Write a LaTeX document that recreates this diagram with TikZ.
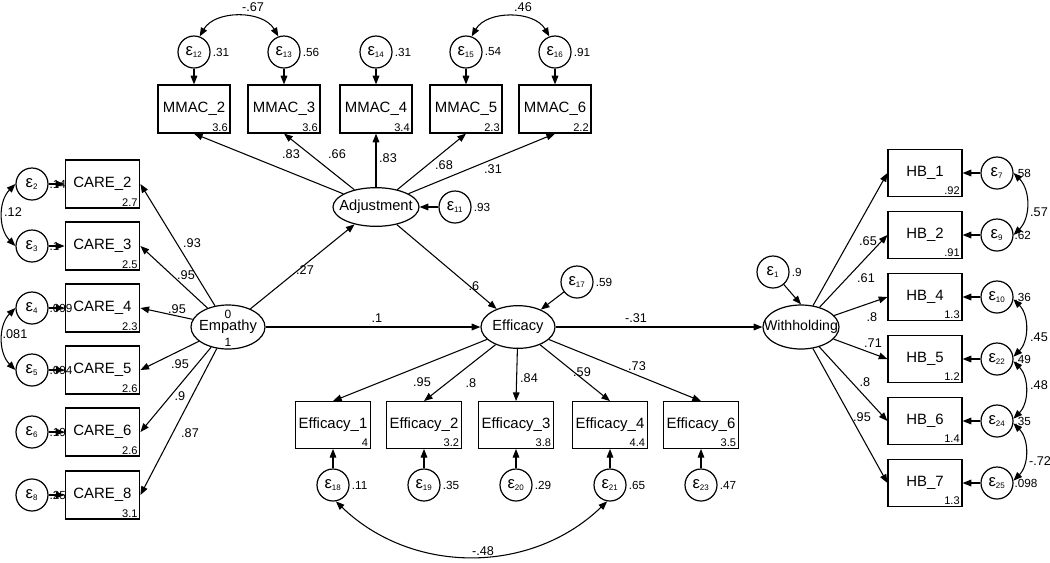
\documentclass[tikz,border=0pt]{standalone}
\usepackage{fontspec}
\setmainfont{Liberation Sans}
\usetikzlibrary{arrows.meta,shapes.geometric}
\newcommand{\errlab}[1]{ε\textsubscript{\fontsize{6}{6.5}\selectfont #1}}
\begin{document}
\begin{tikzpicture}[x=0.75pt,y=-0.75pt,
  box/.style={draw, line width=0.9pt, rectangle, inner sep=0pt, minimum width=56pt, minimum height=36pt, font=\fontsize{11.2}{12}\selectfont},
  lat/.style={draw, line width=0.9pt, ellipse, inner sep=0pt, font=\fontsize{11}{12}\selectfont},
  err/.style={draw, line width=0.9pt, circle, inner sep=0pt, minimum size=24pt, font=\fontsize{12.5}{13}\selectfont},
  pth/.style={line width=0.8pt, -{Triangle[length=6.5pt,width=5pt]}},
  cov/.style={line width=0.8pt, {Triangle[length=6.5pt,width=5pt]}-{Triangle[length=6.5pt,width=5pt]}},
  coef/.style={font=\fontsize{9.5}{10}\selectfont, inner sep=0pt},
  var/.style={font=\fontsize{8.8}{9}\selectfont, inner sep=0pt, anchor=west},
  icpt/.style={font=\fontsize{8.3}{9}\selectfont, inner sep=0pt, anchor=south east}]
\fill[white] (0,0) rectangle (1050,562);
\useasboundingbox (0,0) rectangle (1050,562);

% latent variables
\node[lat, minimum width=55.5pt, minimum height=33pt] (emp) at (228,327) {\makebox[0pt]{Empathy}};
\node[coef, font=\fontsize{9}{9}\selectfont] (emp0) at (228,314) {0};
\node[coef, font=\fontsize{9}{9}\selectfont] (emp1) at (228,342) {1};
\node[lat, minimum width=64.5pt, minimum height=29pt] (adj) at (376,207) {\makebox[0pt]{Adjustment}};
\node[lat, minimum width=55.5pt, minimum height=32pt] (eff) at (518,327) {\makebox[0pt]{Efficacy}};
\node[lat, minimum width=57pt, minimum height=33pt] (with) at (801,327) {\makebox[0pt]{\fontsize{10.6}{12}\selectfont Withholding}};

% latent errors
\node[err] (e11) at (455,207) {\errlab{11}};
\node[var] (v11) at ([xshift=1.5pt]e11.east) {.93};
\node[err] (e17) at (577,282) {\errlab{17}};
\node[var] (v17) at ([xshift=1.5pt]e17.east) {.59};
\node[err] (e1) at (773,272) {\errlab{1}};
\node[var] (v1) at ([xshift=1.5pt]e1.east) {.9};
\draw[pth] (e11) -- (adj);
\draw[pth] (e17) -- (eff);
\draw[pth] (e1) -- (with.north);

% structural paths
\draw[pth] (emp) -- (adj);
\node[coef] (l27) at (305,270) {.27};
\draw[pth] (emp) -- (eff);
\node[coef] (l1) at (377,318) {.1};
\draw[pth] (adj) -- (eff);
\node[coef] (l6) at (474,286) {.6};
\draw[pth] (eff) -- (with);
\node[coef] (l31) at (636,318) {-.31};

% CARE indicators
\foreach \n/\y/\ic/\v in {2/184/2.7/.14, 3/246/2.5/.1, 4/308/2.3/.099, 5/370/2.6/.094, 6/432/2.6/.19, 8/495/3.1/.25}{
  \node[box] (c\n) at (102.5,\y) {CARE\_\n};
  \node[icpt] at ([xshift=-2pt,yshift=1.5pt]c\n.south east) {\ic};
  \node[err] (ec\n) at (32,\y) {\errlab{\n}};
  \node[var] at ([xshift=0.5pt,yshift=-0.5pt]ec\n.east) {\v};
  \draw[pth] (ec\n) -- (c\n);
}
\foreach \n/\l/\lx/\ly in {2/.93/192/243, 3/.95/186/275, 4/.95/177/309, 5/.95/180/364, 6/.9/180/396, 8/.87/190/433}{
  \draw[pth] (emp) -- (c\n.east);
  \node[coef] at (\lx,\ly) {\l};
}
\draw[cov] (ec2.west) to[out=225,in=135] (ec3.west);
\node[coef] (l12) at (13,212) {.12};
\draw[cov] (ec4.west) to[out=225,in=135] (ec5.west);
\node[coef] (l081) at (15,334) {.081};

% MMAC indicators
\foreach \n/\e/\x/\ic/\v in {2/12/194/3.6/.31, 3/13/284/3.6/.56, 4/14/376/3.4/.31, 5/15/466/2.3/.54, 6/16/555/2.2/.91}{
  \node[box, minimum width=54pt] (m\n) at (\x,109) {MMAC\_\n};
  \node[icpt] at ([xshift=-2pt,yshift=1.5pt]m\n.south east) {\ic};
  \node[err] (em\n) at (\x,52) {\errlab{\e}};
  \node[var] at ([xshift=1.5pt]em\n.east) {\v};
  \draw[pth] (em\n) -- (m\n);
}
\foreach \n/\l/\lx/\ly in {2/.83/291/154, 3/.66/337/154, 4/.83/388/158, 5/.68/444/165, 6/.31/493/169}{
  \draw[pth] (adj) -- (m\n.south);
  \node[coef] at (\lx,\ly) {\l};
}
\draw[cov] (em2.70) to[out=60,in=120] (em3.110);
\node[coef] (l67) at (253,7) {-.67};
\draw[cov] (em5.70) to[out=60,in=120] (em6.110);
\node[coef] (l46) at (523,7) {.46};

% Efficacy indicators
\foreach \n/\e/\x/\ic/\v in {1/18/333/4/.11, 2/19/424/3.2/.35, 3/20/516/3.8/.29, 4/21/610/4.4/.65, 6/23/701/3.5/.47}{
  \node[box, minimum height=35pt] (f\n) at (\x,425) {Efficacy\_\n};
  \node[icpt] at ([xshift=-2pt,yshift=1.5pt]f\n.south east) {\ic};
  \node[err] (ef\n) at (\x,485) {\errlab{\e}};
  \node[var] at ([xshift=1.5pt]ef\n.east) {\v};
  \draw[pth] (ef\n) -- (f\n);
}
\foreach \n/\l/\lx/\ly in {1/.95/422/382, 2/.8/471/383, 3/.84/529/378, 4/.59/582/372, 6/.73/637/366}{
  \draw[pth] (eff) -- (f\n.north);
  \node[coef] at (\lx,\ly) {\l};
}
\draw[cov] (ef1.-80) to[out=-44,in=-136] (ef4.-100);
\node[coef] (l48) at (483,551) {-.48};

% HB indicators
\foreach \n/\e/\y/\ic/\v in {1/7/173/.92/.58, 2/9/235/.91/.62, 4/10/297/1.3/.36, 5/22/359/1.2/.49, 6/24/421/1.4/.35, 7/25/483/1.3/.098}{
  \node[box, minimum width=55.5pt, minimum height=35pt] (h\n) at (925,\y) {HB\_\n};
  \node[icpt] at ([xshift=-2pt,yshift=1.5pt]h\n.south east) {\ic};
  \node[err] (eh\n) at (997,\y) {\errlab{\e}};
  \node[var] at ([xshift=0.5pt]eh\n.east) {\v};
  \draw[pth] (eh\n) -- (h\n);
}
\foreach \n/\l/\lx/\ly in {1/.65/868/241, 2/.61/866/278, 4/.8/872/317, 5/.71/873/343, 6/.8/865/382, 7/.95/862/417}{
  \draw[pth] (with) -- (h\n.west);
  \node[coef] at (\lx,\ly) {\l};
}
\draw[cov] (eh1.east) to[out=-45,in=45] (eh2.east);
\node[coef] (l57) at (1039,212) {.57};
\draw[cov] (eh4.-8) to[out=-45,in=45] (eh5.8);
\node[coef] (l45) at (1039,337) {.45};
\draw[cov] (eh5.-8) to[out=-45,in=45] (eh6.8);
\node[coef] (l48b) at (1039,385) {.48};
\draw[cov] (eh6.-8) to[out=-45,in=45] (eh7.8);
\node[coef] (l72) at (1040,461) {-.72};
\end{tikzpicture}
\end{document}
